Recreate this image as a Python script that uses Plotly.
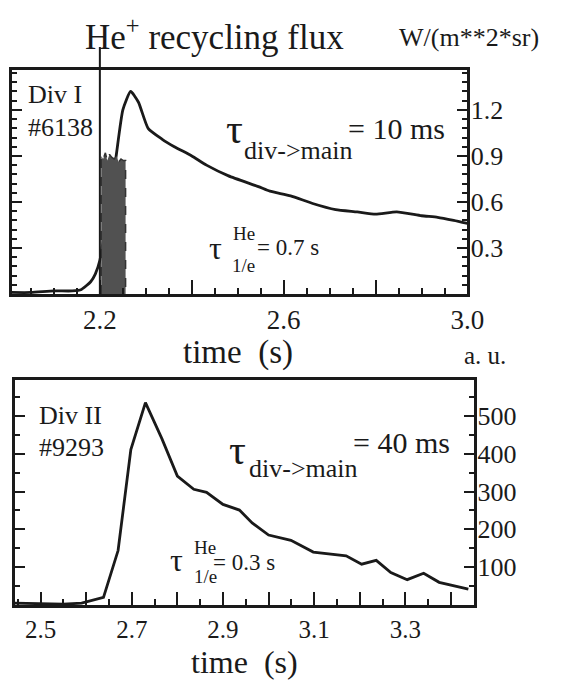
import plotly.graph_objects as go

# Div I, shot #6138: He+ recycling flux, W/(m**2*sr)
t_div1 = [2.008, 2.05, 2.10, 2.14, 2.16, 2.18, 2.19, 2.20, 2.215, 2.235, 2.25, 2.267,
          2.284, 2.305, 2.335, 2.362, 2.40, 2.432, 2.48, 2.545, 2.57, 2.615, 2.663,
          2.713, 2.76, 2.80, 2.846, 2.90, 2.935, 2.97, 3.0]
flux_div1 = [0.01, 0.01, 0.02, 0.02, 0.03, 0.08, 0.13, 0.22, 0.50, 0.89, 1.20, 1.32,
             1.25, 1.08, 1.01, 0.96, 0.90, 0.84, 0.77, 0.70, 0.67, 0.64, 0.59,
             0.55, 0.535, 0.52, 0.535, 0.51, 0.50, 0.48, 0.46]

# He gas puff window (shaded block)
puff_t = [2.203, 2.207, 2.212, 2.216, 2.221, 2.226, 2.231, 2.236, 2.241, 2.246, 2.251, 2.256]
puff_top = [0.90, 0.88, 0.92, 0.87, 0.91, 0.89, 0.88, 0.90, 0.86, 0.88, 0.87, 0.87]

# Div II, shot #9293: He+ recycling flux, a. u.
t_div2 = [2.443, 2.50, 2.55, 2.59, 2.638, 2.670, 2.698, 2.73, 2.766, 2.80, 2.836, 2.864,
          2.90, 2.936, 2.964, 3.0, 3.049, 3.098, 3.17, 3.204, 3.236, 3.268, 3.304,
          3.34, 3.374, 3.438]
flux_div2 = [5, 3, 2, 5, 20, 144, 411, 535, 440, 341, 306, 298,
             266, 251, 217, 185, 171, 140, 130, 108, 118, 86, 67,
             84, 60, 42]

y1_ticks = [0.3, 0.6, 0.9, 1.2]
y1_text = ["0.3", "0.6", "0.9", "1.2"]
y2_ticks = [100, 200, 300, 400, 500]
y2_text = ["100", "200", "300", "400", "500"]

W, H = 565, 681
INK = "#1a1a1a"
SERIF = "Liberation Serif, Times New Roman, serif"


def px(x):
    return x / W


def py(y):
    return 1 - y / H


fig = go.Figure()

fig.add_trace(go.Scatter(x=t_div1, y=flux_div1, mode="lines", xaxis="x", yaxis="y",
                         line=dict(color=INK, width=2.8, shape="spline", smoothing=0.5),
                         hoverinfo="skip"))
fig.add_trace(go.Scatter(x=[puff_t[0]] + puff_t + [puff_t[-1]], y=[0] + puff_top + [0],
                         mode="lines", fill="toself", fillcolor="#515151",
                         line=dict(color="#333333", width=1.5, dash="dash"),
                         xaxis="x", yaxis="y", hoverinfo="skip"))
fig.add_trace(go.Scatter(x=t_div2, y=flux_div2, mode="lines", xaxis="x2", yaxis="y2",
                         line=dict(color=INK, width=2.8), hoverinfo="skip"))

axis_base = dict(showline=True, linecolor=INK, linewidth=3, ticks="inside",
                 tickcolor=INK, tickwidth=2, showgrid=False, zeroline=False,
                 tickfont=dict(family=SERIF, size=26, color=INK))

fig.update_layout(
    width=W, height=H, margin=dict(l=0, r=0, t=0, b=0),
    paper_bgcolor="white", plot_bgcolor="white", showlegend=False,
    xaxis=dict(axis_base, domain=[px(12), px(482)], anchor="y", range=[2.008, 3.0],
               tickmode="linear", tick0=2.2, dtick=0.2, ticklabelstep=2,
               tickformat=".1f", ticklen=14, mirror=True,
               tickfont=dict(family=SERIF, size=27, color=INK),
               minor=dict(tickmode="linear", tick0=2.0, dtick=0.05, ticks="inside",
                          ticklen=6, tickwidth=2, tickcolor=INK, showgrid=False)),
    yaxis=dict(axis_base, domain=[py(294), py(70)], anchor="x", side="right",
               range=[0, 1.46], tickmode="array", tickvals=y1_ticks, ticktext=y1_text,
               ticklen=10, mirror="ticks", ticklabelstandoff=-5,
               minor=dict(tickmode="linear", tick0=0, dtick=0.06, ticks="inside",
                          ticklen=5, tickwidth=1.5, tickcolor=INK, showgrid=False)),
    xaxis2=dict(axis_base, domain=[px(15), px(489)], anchor="y2", range=[2.443, 3.451],
                tickmode="linear", tick0=2.5, dtick=0.1, ticklabelstep=2,
                tickformat=".1f", ticklen=13, mirror=True,
                tickfont=dict(family=SERIF, size=25, color=INK),
                minor=dict(tickmode="linear", tick0=2.45, dtick=0.05, ticks="inside",
                           ticklen=6, tickwidth=2, tickcolor=INK, showgrid=False)),
    yaxis2=dict(axis_base, domain=[py(605), py(380)], anchor="x2", side="right",
                range=[0, 595], tickmode="array", tickvals=y2_ticks, ticktext=y2_text,
                ticklen=10, mirror="ticks", ticklabelstandoff=-5,
                minor=dict(tickmode="linear", tick0=0, dtick=50, ticks="inside",
                           ticklen=5, tickwidth=1.5, tickcolor=INK, showgrid=False)),
)

# puff start marker running up to the title
fig.add_shape(type="line", xref="x", yref="paper", x0=2.2, x1=2.2,
              y0=py(294), y1=py(47), line=dict(color=INK, width=2))


def label(text, x, y, size, xanchor="left", yanchor="middle"):
    fig.add_annotation(text=text, x=px(x), y=py(y), xref="paper", yref="paper",
                       xanchor=xanchor, yanchor=yanchor, showarrow=False,
                       font=dict(family=SERIF, size=size, color=INK))


label("He<sup>+</sup> recycling flux", 86, 35, 35)
label("W/(m**2*sr)", 558, 38, 26, xanchor="right")

label("Div I", 27, 95, 26)
label("#6138", 27, 127, 26)
label("τ", 231, 129, 42)
label("div->main", 250, 151, 26)
label("= 10 ms", 357, 128, 30)
label("τ", 213, 248, 32)
label("He", 238, 233, 19)
label("1/e", 237, 266, 19)
label("= 0.7 s", 263, 248, 23)
label("time\u00a0 (s)", 245, 352, 33, xanchor="center")
label("a. u.", 500, 356, 25, xanchor="center")

label("Div II", 38, 415, 26)
label("#9293", 38, 447, 26)
label("τ", 234, 450, 42)
label("div->main", 255, 468, 26)
label("= 40 ms", 362, 443, 30)
label("τ", 173, 560, 32)
label("He", 198, 547, 19)
label("1/e", 198, 576, 19)
label("= 0.3 s", 218, 562, 23)
label("time\u00a0 (s)", 252, 662, 32, xanchor="center")

fig.write_html("out.html")
